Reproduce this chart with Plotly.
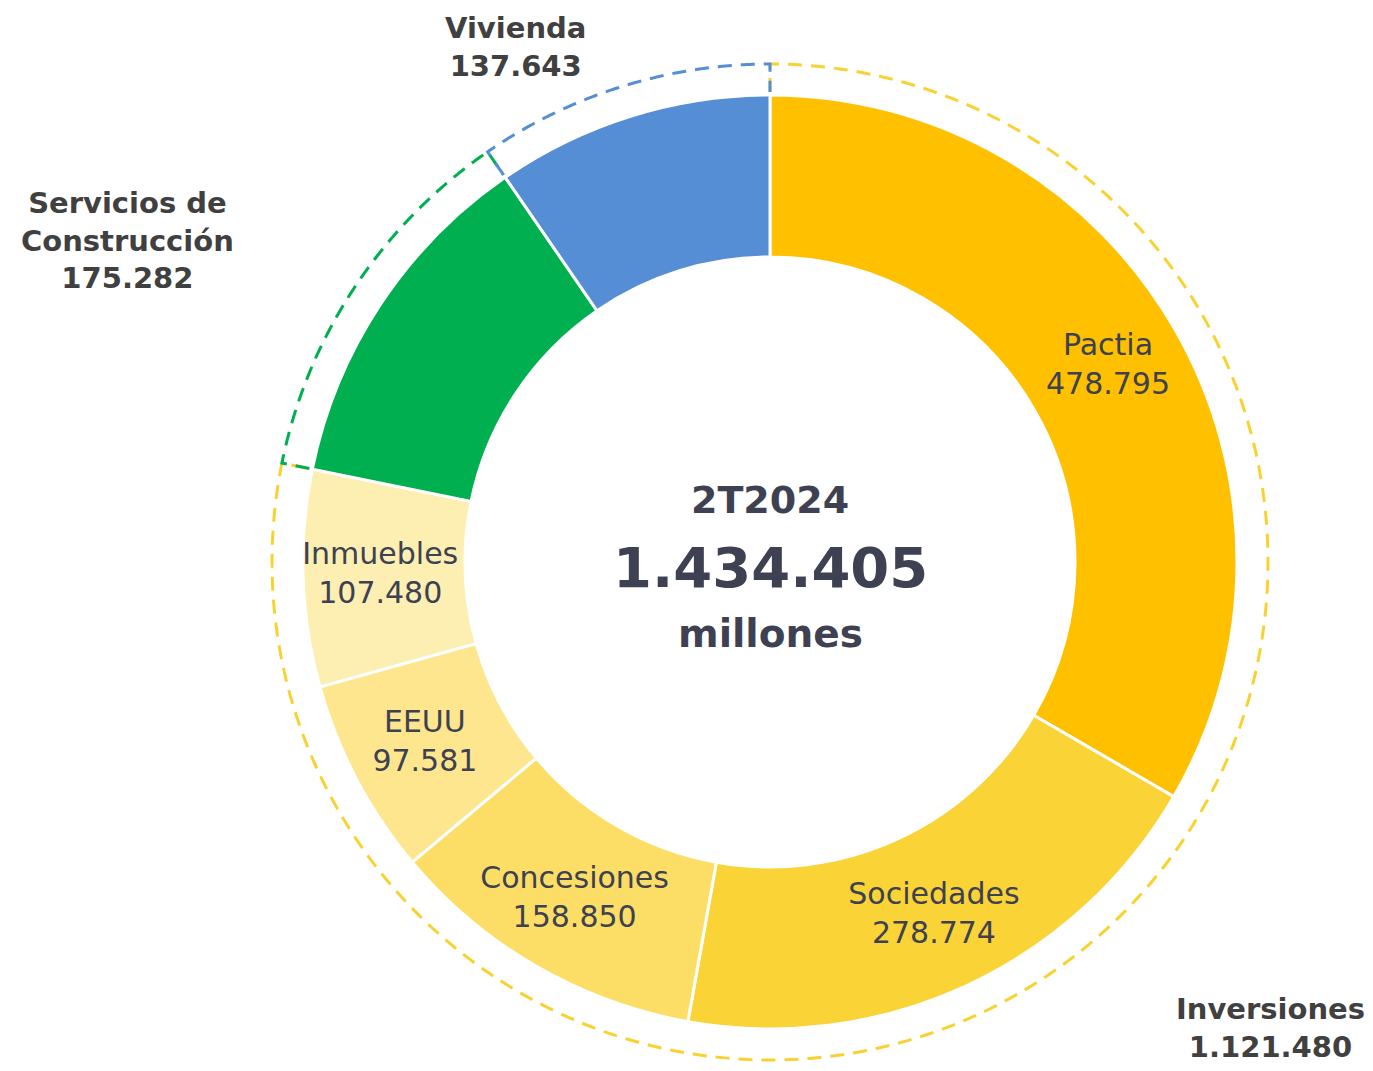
import numpy as np
import plotly.graph_objects as go

# data
segments = ["Pactia", "Sociedades", "Concesiones", "EEUU", "Inmuebles",
            "Servicios de Construcción", "Vivienda"]
values = [478795, 278774, 158850, 97581, 107480, 175282, 137643]
value_labels = ["478.795", "278.774", "158.850", "97.581", "107.480", "175.282", "137.643"]
colors = ["#FFC000", "#FAD337", "#FCDE66", "#FDE68E", "#FDEEB2", "#00AF50", "#558ED5"]
show_inside = [True, True, True, True, True, False, False]

groups = ["Inversiones", "Servicios de\nConstrucción", "Vivienda"]
group_values = ["1.121.480", "175.282", "137.643"]
group_sizes = [5, 1, 1]   # number of segments in each group
group_colors = ["#F9D232", "#00AF50", "#558ED5"]

period = "2T2024"
total_label = "1.434.405"
unit = "millones"

FONT = "DejaVu Sans"
TEXT_COLOR = "#3D4152"
GROUP_TEXT = "#404040"

OFF = 8  # page body margin
W, H = 1373 - 2 * OFF, 1071 - 2 * OFF
CX, CY = 770 - OFF, 562 - OFF
D_PX = 501          # polar domain radius in pixels, radial units = px

R_IN = 305
R_OUT = 467
R_DASH = 498
R_LABEL = 390

total = sum(values)
spans = np.array(values) / total * 360
starts = np.concatenate([[0], np.cumsum(spans)[:-1]])
mids = starts + spans / 2

fig = go.Figure()

fig.add_trace(go.Barpolar(
    theta=mids, width=spans, r=[R_OUT - R_IN] * len(values), base=R_IN,
    marker=dict(color=colors, line=dict(color="white", width=3)),
    hoverinfo="skip",
))

# inner labels
lab_theta = [m for m, s in zip(mids, show_inside) if s]
lab_text = [f"{n}<br>{v}" for n, v, s in zip(segments, value_labels, show_inside) if s]
fig.add_trace(go.Scatterpolar(
    theta=lab_theta, r=[R_LABEL] * len(lab_theta), mode="text", text=lab_text,
    textfont=dict(family=FONT, size=30, color=TEXT_COLOR),
    hoverinfo="skip",
))

# dashed group arcs
idx = 0
for gsize, gcol in zip(group_sizes, group_colors):
    a0 = starts[idx]
    a1 = starts[idx + gsize - 1] + spans[idx + gsize - 1]
    idx += gsize
    arc = np.linspace(a0, a1, 200)
    th = np.concatenate([[a0], arc, [a1]])
    rr = np.concatenate([[R_OUT + 3], [R_DASH] * len(arc), [R_OUT + 3]])
    fig.add_trace(go.Scatterpolar(
        theta=th, r=rr, mode="lines",
        line=dict(color=gcol, width=3, dash="14px,9px"),
        hoverinfo="skip",
    ))

fig.update_layout(
    width=W, height=H,
    margin=dict(l=0, r=0, t=0, b=0),
    paper_bgcolor="white",
    showlegend=False,
    hovermode=False,
    polar=dict(
        domain=dict(x=[(CX - D_PX) / W, (CX + D_PX) / W],
                    y=[max(0, (H - CY - D_PX) / H), min(1, (H - CY + D_PX) / H)]),
        bgcolor="white",
        radialaxis=dict(visible=False, range=[0, D_PX]),
        angularaxis=dict(visible=False, rotation=90, direction="clockwise"),
        bargap=0,
    ),
)


def page_note(px, py, text, size, color):
    fig.add_annotation(x=(px - OFF) / W, y=1 - (py - OFF) / H,
                       xref="paper", yref="paper", xanchor="center", yanchor="middle",
                       text=text, showarrow=False, align="center",
                       font=dict(family=FONT, size=size, color=color))


# centre text
page_note(770, 500, f"<b>{period}</b>", 38, TEXT_COLOR)
page_note(770, 567, f"<b>{total_label}</b>", 56, TEXT_COLOR)
page_note(770, 633, f"<b>{unit}</b>", 39, TEXT_COLOR)

# group labels
group_pos = [(1270, 1028), (127, 240), (515, 47)]
for name, val, (px, py) in zip(groups, group_values, group_pos):
    page_note(px, py, "<b>" + name.replace("\n", "<br>") + f"<br>{val}</b>", 29, GROUP_TEXT)

fig.write_html("out.html")
